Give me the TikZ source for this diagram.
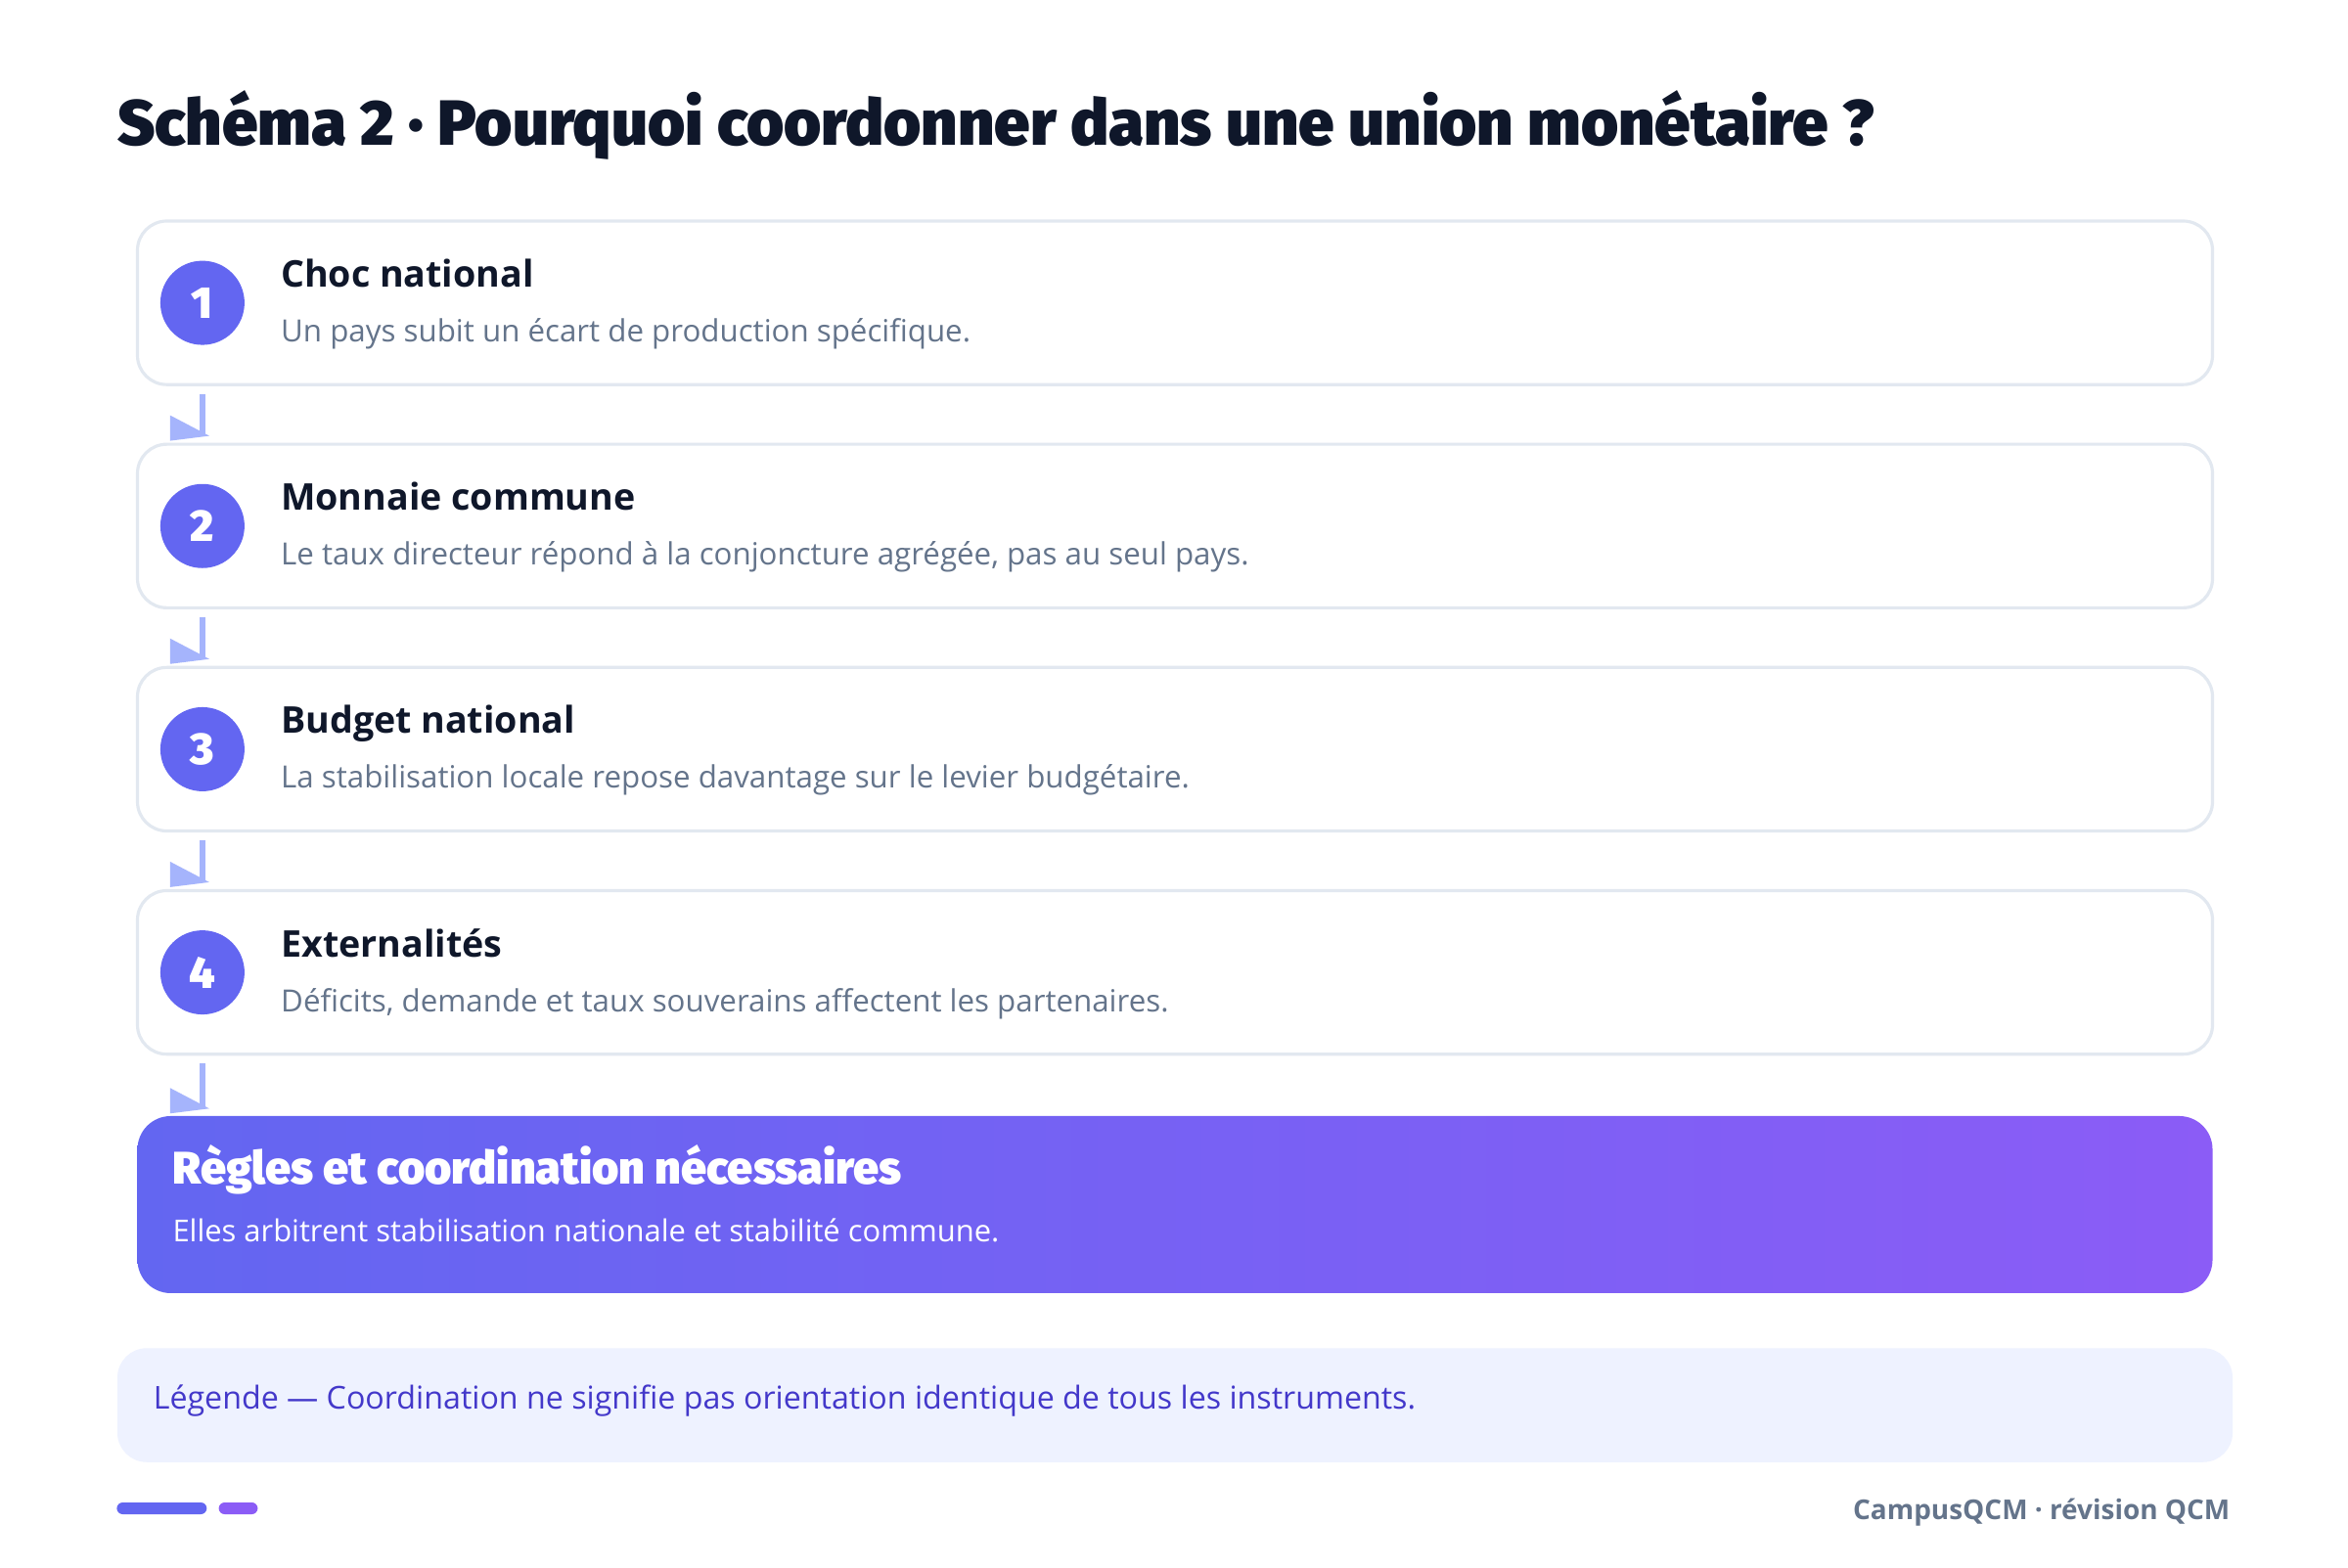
\documentclass[tikz,border=0pt]{standalone}
\usepackage{fontspec}
\IfFontExistsTF{Open Sans Bold}{\setmainfont{Open Sans}[BoldFont={Open Sans Bold}]}{\setmainfont{Open Sans}}
\IfFontExistsTF{Fira Sans Black}{\newfontfamily\heavyfont{Fira Sans Black}}{%
  \IfFontExistsTF{Lato Black}{\newfontfamily\heavyfont{Lato Black}}{%
    \IfFontExistsTF{Open Sans ExtraBold}{\newfontfamily\heavyfont{Open Sans ExtraBold}}{\newcommand{\heavyfont}{\bfseries}}}}
\IfFontExistsTF{Open Sans SemiBold}{\newfontfamily\semifont{Open Sans SemiBold}}{\newcommand{\semifont}{\bfseries}}
\usetikzlibrary{positioning,calc}
\definecolor{ink}{HTML}{0F172A}
\definecolor{muted}{HTML}{64748B}
\definecolor{edge}{HTML}{E2E8F0}
\definecolor{indigo}{HTML}{6366F1}
\definecolor{violet}{HTML}{8B5CF6}
\definecolor{flow}{HTML}{A5B4FC}
\definecolor{legendbg}{HTML}{EEF2FF}
\definecolor{legendink}{HTML}{4338CA}
\tikzset{
  stepbox/.style={rectangle, rounded corners=0.3cm, minimum width=21.21cm, minimum height=1.672cm, draw=edge, line width=0.9pt, fill=white},
  numdot/.style={circle, fill=indigo, minimum size=0.86cm, inner sep=0pt, text=white, font=\heavyfont\fontsize{13}{13}\selectfont},
  steptitle/.style={anchor=base west, inner sep=0pt, text=ink, font=\bfseries\fontsize{10.7}{13}\selectfont},
  steptext/.style={anchor=base west, inner sep=0pt, text=muted, font=\fontsize{8.9}{11}\selectfont},
  flowline/.style={draw=flow, line width=1.6pt},
  flowtip/.style={fill=flow},
  resultbox/.style={rectangle, rounded corners=0.34cm, minimum width=21.21cm, minimum height=1.81cm, left color=indigo, right color=violet},
  resulttitle/.style={anchor=base west, inner sep=0pt, text=white, font=\heavyfont\fontsize{13.3}{15}\selectfont},
  resulttext/.style={anchor=base west, inner sep=0pt, text=white, font=\fontsize{8.8}{11}\selectfont},
}
\newcommand{\flowtip}[1]{\fill[flowtip] (#1) ++(-0.33,0.20) -- ++(0,-0.26) -- ++(0.40,0.05) -- cycle;}
\begin{document}
\begin{tikzpicture}
	\useasboundingbox[fill=white] (0,0) rectangle (24,-16.03);

	% title
	\node (title) [anchor=base west, inner sep=0pt, text=ink, font=\heavyfont\fontsize{18.6}{22}\selectfont] at (1.194,-1.485) {Schéma 2 · Pourquoi coordonner dans une union monétaire ?};

	% steps
	\node (b1) [stepbox] at (12.01,-3.096) {};
	\node (b2) [stepbox, below=0.578cm of b1] {};
	\node (b3) [stepbox, below=0.578cm of b2] {};
	\node (b4) [stepbox, below=0.578cm of b3] {};
	\node (res) [resultbox, below=0.61cm of b4] {};

	\node (n1) [numdot] at ([xshift=0.68cm]b1.west) {1};
	\node (n2) [numdot] at ([xshift=0.68cm]b2.west) {2};
	\node (n3) [numdot] at ([xshift=0.68cm]b3.west) {3};
	\node (n4) [numdot] at ([xshift=0.68cm]b4.west) {4};

	\node (t1) [steptitle] at ($(n1.center)+(0.796,0.16)$) {Choc national};
	\node (s1) [steptext] at ($(n1.center)+(0.796,-0.40)$) {Un pays subit un écart de production spécifique.};
	\node (t2) [steptitle] at ($(n2.center)+(0.796,0.16)$) {Monnaie commune};
	\node (s2) [steptext] at ($(n2.center)+(0.796,-0.40)$) {Le taux directeur répond à la conjoncture agrégée, pas au seul pays.};
	\node (t3) [steptitle] at ($(n3.center)+(0.796,0.16)$) {Budget national};
	\node (s3) [steptext] at ($(n3.center)+(0.796,-0.40)$) {La stabilisation locale repose davantage sur le levier budgétaire.};
	\node (t4) [steptitle] at ($(n4.center)+(0.796,0.16)$) {Externalités};
	\node (s4) [steptext] at ($(n4.center)+(0.796,-0.40)$) {Déficits, demande et taux souverains affectent les partenaires.};

	\node (rt) [resulttitle] at ($(res.north west)+(0.36,-0.70)$) {Règles et coordination nécessaires};
	\node (rs) [resulttext] at ($(res.north west)+(0.36,-1.29)$) {Elles arbitrent stabilisation nationale et stabilité commune.};

	% connectors
	\draw [flowline] ([yshift=-0.08cm]b1.south -| n1.center) -- ([yshift=0.08cm]b2.north -| n1.center) coordinate (a1);
	\draw [flowline] ([yshift=-0.08cm]b2.south -| n2.center) -- ([yshift=0.08cm]b3.north -| n2.center) coordinate (a2);
	\draw [flowline] ([yshift=-0.08cm]b3.south -| n3.center) -- ([yshift=0.08cm]b4.north -| n3.center) coordinate (a3);
	\draw [flowline] ([yshift=-0.08cm]b4.south -| n4.center) -- ([yshift=0.08cm]res.north -| n4.center) coordinate (a4);
	\flowtip{a1}
	\flowtip{a2}
	\flowtip{a3}
	\flowtip{a4}

	% legend
	\node (leg) [rectangle, rounded corners=0.3cm, fill=legendbg, minimum width=21.62cm, minimum height=1.165cm] at (12.01,-14.365) {};
	\node (legt) [anchor=base west, inner sep=0pt, text=legendink, font=\fontsize{9.16}{11}\selectfont] at ($(leg.west)+(0.368,-0.035)$) {Légende — Coordination ne signifie pas orientation identique de tous les instruments.};

	% footer
	\fill[indigo, rounded corners=0.06cm] (1.194,-15.36) rectangle (2.113,-15.48);
	\fill[violet, rounded corners=0.06cm] (2.236,-15.36) rectangle (2.634,-15.48);
	\node (foot) [anchor=base east, inner sep=0pt, text=muted, font=\semifont\fontsize{7.95}{10}\selectfont] at (22.80,-15.53) {CampusQCM · révision QCM};
\end{tikzpicture}
\end{document}
